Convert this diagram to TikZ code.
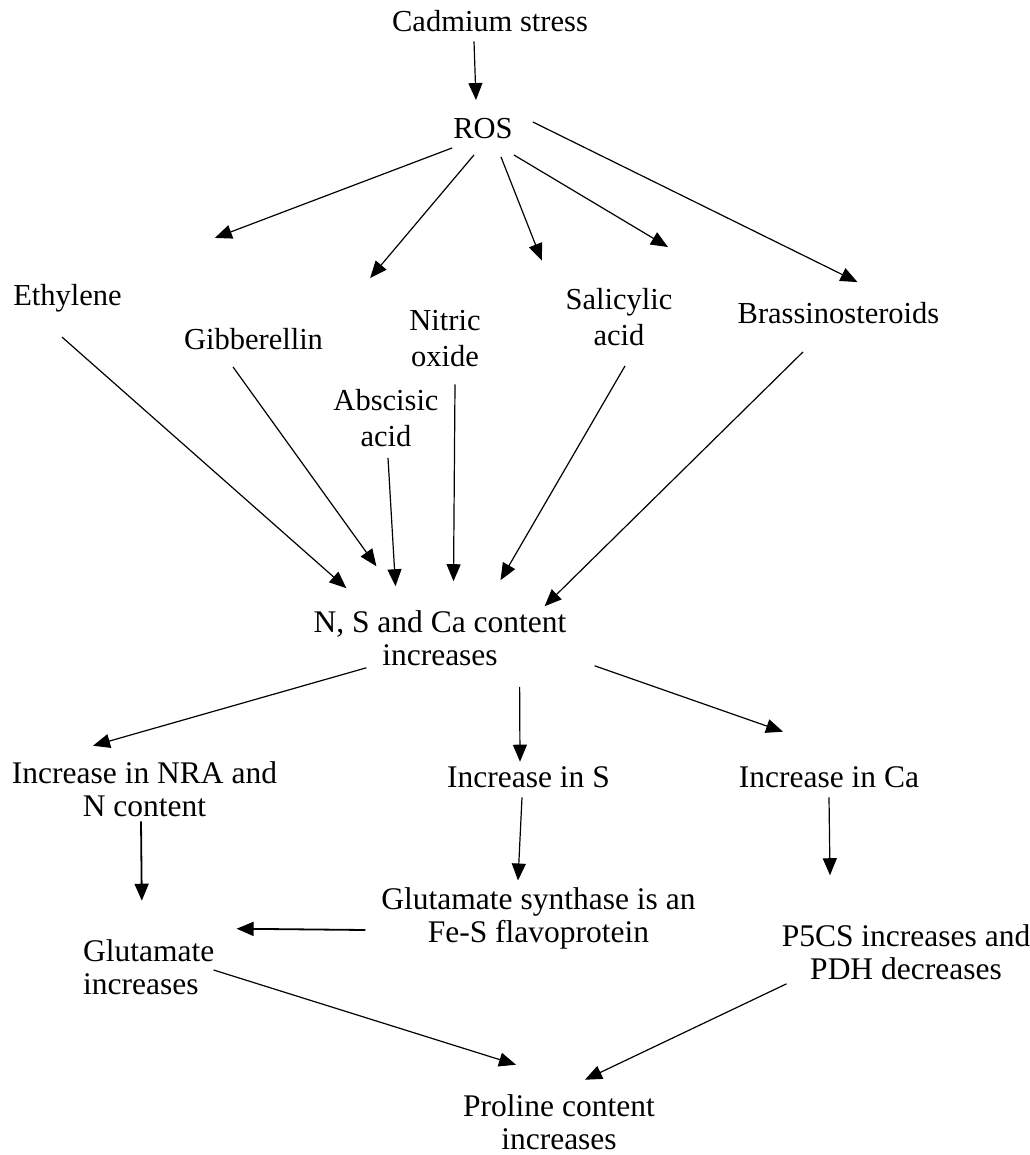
\documentclass[tikz,border=0pt]{standalone}
\usepackage{fontspec}
\setmainfont{Liberation Serif}
\usepackage{tikz}
\usetikzlibrary{arrows.meta}

\begin{document}
\begin{tikzpicture}[x=1pt, y=-1pt,
    every node/.style = {inner sep=0pt, align=center,
      font=\fontsize{30.5}{36}\selectfont},
    low/.style = {font=\fontsize{31.5}{33}\selectfont},
    arr/.style = {-{Triangle[length=17pt,width=14pt]}, line width=1.2pt},
    heavy/.style = {line width=1.8pt}]
  \useasboundingbox (0,0) rectangle (1029,1155);
  \node (cad) at (490,21.5) {Cadmium stress};
  \node (ros) at (483,128.5) {ROS};
  \node (eth) at (67.5,298) {Ethylene};
  \node (gib) at (253.5,339) {Gibberellin};
  \node (nitric) at (445,339) {Nitric\\oxide};
  \node (sal) at (619,317) {Salicylic\\acid};
  \node (bras) at (838.5,313) {Brassinosteroids};
  \node (aba) at (386,418) {Abscisic\\acid};
  \node[low] (nsca) at (440,638) {N, S and Ca content\\increases};
  \node[low] (nra) at (144.5,789.5) {Increase in NRA and\\N content};
  \node[low] (incs) at (528.5,777.5) {Increase in S};
  \node[low] (inca) at (829,777.5) {Increase in Ca};
  \node[low] (gogat) at (538.5,918.5) {Glutamate synthase is an\\Fe-S flavoprotein};
  \node[low, align=left, anchor=west] (glu) at (83,967.5) {Glutamate\\increases};
  \node[low] (p5cs) at (906,952) {P5CS increases and\\PDH decreases};
  \node[low] (pro) at (559,1122.5) {Proline content\\increases};

  \draw[arr] ([shift={(-16,9)}]cad.south) -- ([shift={(-7,-18)}]ros.north);
  \draw[arr] ([shift={(-1,9)}]ros.south west) -- ([shift={(93,-46)}]eth.north east);
  \draw[arr] ([shift={(-9,16)}]ros.south) -- ([shift={(47,-50)}]gib.north east);
  \draw[arr] ([shift={(18,18)}]ros.south) -- ([shift={(61,-50)}]nitric.north east);
  \draw[arr] ([shift={(1,16)}]ros.south east) -- ([shift={(49,-41)}]sal.north);
  \draw[arr] ([shift={(20,-6.5)}]ros.east) -- ([shift={(19,-20)}]bras.north);
  \draw[arr] ([shift={(-5.5,25)}]eth.south) -- ([shift={(33,-22)}]nsca.north west);
  \draw[arr] ([shift={(-20.5,17)}]gib.south) -- ([shift={(63,-44)}]nsca.north west);
  \draw[arr] ([shift={(2,11)}]aba.south) -- ([shift={(-44.5,-24)}]nsca.north);
  \draw[arr] ([shift={(10,17)}]nitric.south) -- ([shift={(13.5,-29)}]nsca.north);
  \draw[arr] ([shift={(6,20)}]sal.south) -- ([shift={(60.5,-30)}]nsca.north);
  \draw[arr] ([shift={(-35.5,28)}]bras.south) -- ([shift={(-22,-4)}]nsca.north east);
  \draw[arr] ([shift={(53,2)}]nsca.south west) -- ([shift={(-51.5,-16)}]nra.north);
  \draw[arr] ([shift={(-47,21)}]nsca.south east) -- ([shift={(-8.5,-5)}]incs.north);
  \draw[arr] ([shift={(28,0)}]nsca.south east) -- ([shift={(-46,-35)}]inca.north);
  \draw[arr, heavy] ([shift={(-3.5,4)}]nra.south) -- ([shift={(-7,-39)}]glu.north);
  \draw[arr] ([shift={(-6.5,9)}]incs.south) -- ([shift={(-20.5,-7)}]gogat.north);
  \draw[arr] ([shift={(0,9)}]inca.south) -- ([shift={(-76,-49)}]p5cs.north);
  \draw[arr, heavy] ([shift={(-16,11.5)}]gogat.west) -- ([shift={(22,-11)}]glu.north east);
  \draw[arr] ([shift={(-1,2.5)}]glu.east) -- ([shift={(-43,-30)}]pro.north);
  \draw[arr] ([shift={(5,4)}]p5cs.south west) -- ([shift={(26,-15)}]pro.north);
\end{tikzpicture}
\end{document}
